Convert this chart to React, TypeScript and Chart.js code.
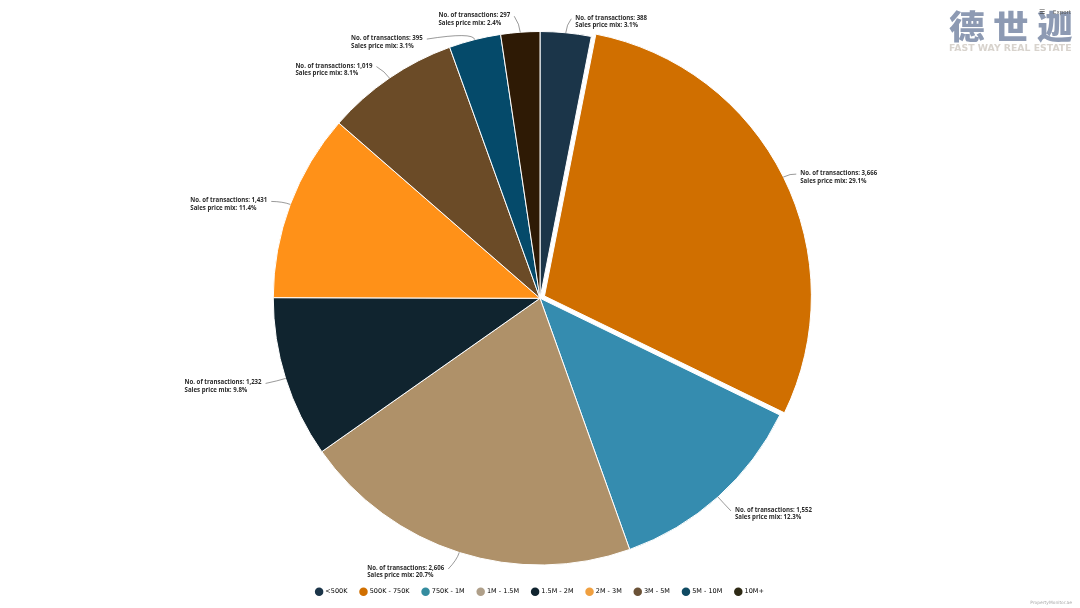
import React, { useEffect, useRef } from "react";
import { Chart, registerables } from "chart.js";

Chart.register(...registerables);

const categories = ["<500K", "500K - 750K", "750K - 1M", "1M - 1.5M", "1.5M - 2M", "2M - 3M", "3M - 5M", "5M - 10M", "10M+"];
const transactions = [388, 3666, 1552, 2606, 1232, 1431, 1019, 395, 297];
const priceMix = ["3.1", "29.1", "12.3", "20.7", "9.8", "11.4", "8.1", "3.1", "2.4"];
const sliceColors = ["#1b3549", "#d06f00", "#358caf", "#af9169", "#10242f", "#ff9118", "#6b4b27", "#054a6a", "#2e1a05"];
const legendDots = ["#1b3549", "#d06f00", "#358c9f", "#af9f89", "#10242f", "#f0a040", "#6b5237", "#0f4a62", "#2e2a15"];

// label placement relative to each slice's outer-edge anchor: [dx, dy of text block, left|right]
const labelPlacement: [number, number, "left" | "right"][] = [
  [9.5, -11, "left"],
  [17, 0, "left"],
  [17, 17, "left"],
  [-15, 19.5, "right"],
  [-24, 8, "right"],
  [-23, 0, "right"],
  [-17, -8.5, "right"],
  [-52, 2.5, "right"],
  [-10, -13, "right"],
];

const fmt = (n: number) => n.toLocaleString("en-US");

const pieLabels = {
  id: "pieLabels",
  afterDatasetsDraw(chart: any) {
    const { ctx } = chart;
    const arcs = chart.getDatasetMeta(0).data;
    ctx.save();
    ctx.font = "700 6.1px 'Open Sans'";
    ctx.fillStyle = "#2a2a2a";
    ctx.textBaseline = "middle";
    arcs.forEach((arc: any, i: number) => {
      const mid = (arc.startAngle + arc.endAngle) / 2;
      const shift = (arc.options.offset || 0) / 4;
      const ax = arc.x + Math.cos(mid) * (arc.outerRadius + shift);
      const ay = arc.y + Math.sin(mid) * (arc.outerRadius + shift);
      const [dx, dy, side] = labelPlacement[i];
      const tx = ax + dx;
      const ty = ay + dy;
      ctx.strokeStyle = "#555";
      ctx.lineWidth = 0.6;
      ctx.beginPath();
      ctx.moveTo(ax, ay);
      const ex = tx + (side === "left" ? -4 : 4);
      ctx.quadraticCurveTo(ax + Math.cos(mid) * 8, ay + Math.sin(mid) * 8, ex, ty - 3);
      ctx.stroke();
      ctx.textAlign = "left";
      const l1 = `No. of transactions: ${fmt(transactions[i])}`;
      const l2 = `Sales price mix: ${priceMix[i]}%`;
      const w = ctx.measureText(l1).width;
      const x = side === "left" ? tx : tx - w;
      ctx.fillText(l1, x, ty - 3.7);
      ctx.fillText(l2, x, ty + 3.7);
    });
    ctx.restore();
  },
};

export default function App() {
  const ref = useRef<HTMLCanvasElement>(null);
  useEffect(() => {
    const chart = new Chart(ref.current!, {
      type: "pie",
      data: {
        labels: categories,
        datasets: [
          {
            data: transactions,
            backgroundColor: sliceColors,
            borderColor: "#ffffff",
            borderWidth: 1,
            offset: transactions.map((_, i) => (i === 1 ? 20 : 0)),
          },
        ],
      },
      options: {
        responsive: false,
        animation: false,
        layout: { padding: { top: 21, bottom: 3 } },
        plugins: {
          tooltip: { enabled: false },
          legend: {
            position: "bottom",
            labels: {
              usePointStyle: true,
              pointStyle: "circle",
              boxWidth: 6,
              boxHeight: 6,
              padding: 13,
              color: "#666",
              font: { family: "'DejaVu Sans'", size: 6.5 },
              generateLabels: () =>
                categories.map((c, i) => ({
                  text: c,
                  fillStyle: legendDots[i],
                  strokeStyle: legendDots[i],
                  lineWidth: 0,
                  pointStyle: "circle",
                  hidden: false,
                  index: i,
                })),
            },
          },
        },
      },
      plugins: [pieLabels],
    });
    return () => chart.destroy();
  }, []);
  return (
    <div style={{ position: "fixed", left: 0, top: 0, width: 1080, height: 608, background: "#fff", overflow: "hidden" }}>
      <canvas ref={ref} width={1080} height={608} style={{ display: "block" }} />
      <div style={{ position: "absolute", left: 949, top: 5, fontFamily: "'Noto Sans CJK SC'", fontWeight: 900, fontSize: 33, lineHeight: "40px", letterSpacing: 7.7, color: "#8d9ab3", whiteSpace: "nowrap", transform: "scaleX(1.08)", transformOrigin: "left top" }}>德世迦</div>
      <div style={{ position: "absolute", left: 949, top: 42, fontFamily: "'DejaVu Sans'", fontWeight: 700, fontSize: 9.3, lineHeight: "12px", color: "#d8d3cd", whiteSpace: "nowrap" }}>FAST WAY REAL ESTATE</div>
      <div style={{ position: "absolute", left: 1039, top: 8, fontFamily: "'DejaVu Sans'", fontSize: 7, color: "#444" }}>☰</div>
      <div style={{ position: "absolute", left: 1053, top: 9, fontFamily: "'DejaVu Sans'", fontSize: 5.5, color: "#555" }}>Export</div>
      <div style={{ position: "absolute", right: 8, top: 600, fontFamily: "'DejaVu Sans'", fontSize: 4.4, color: "#aaa" }}>PropertyMonitor.ae</div>
    </div>
  );
}
